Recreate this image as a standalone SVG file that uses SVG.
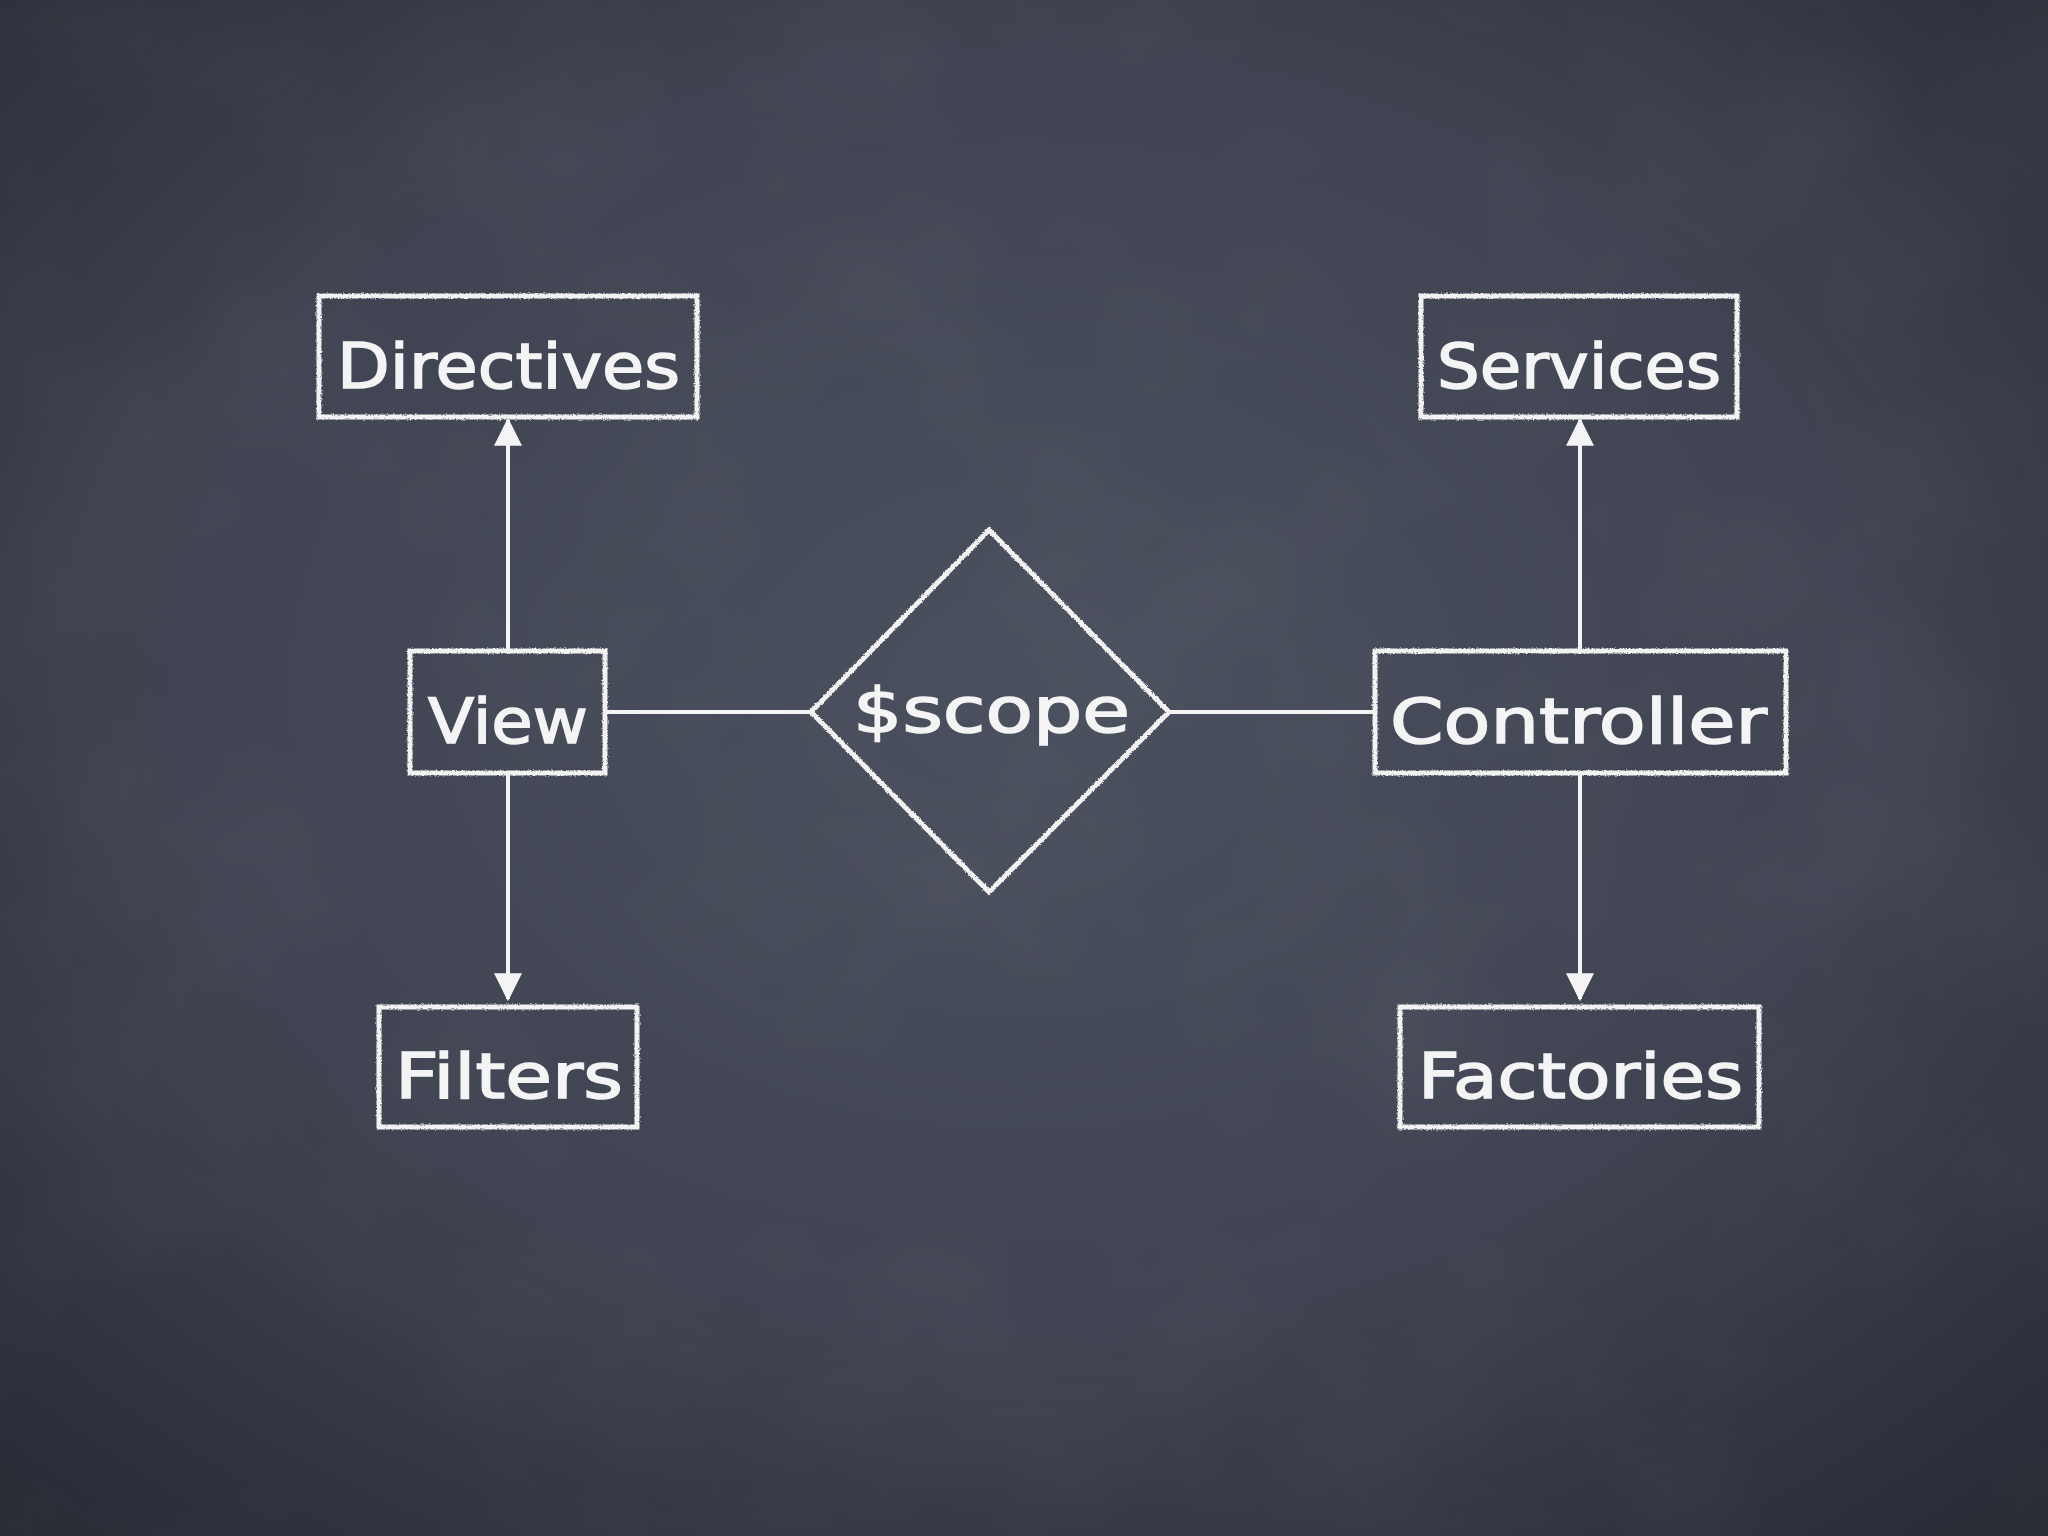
<svg xmlns="http://www.w3.org/2000/svg" width="2048" height="1536" viewBox="0 0 2048 1536">
  <defs>
    <radialGradient id="bg" cx="50%" cy="45%" r="75%">
      <stop offset="0" stop-color="#4b505e"/>
      <stop offset="0.55" stop-color="#404452"/>
      <stop offset="1" stop-color="#272a33"/>
    </radialGradient>
    <filter id="noise" x="0" y="0" width="100%" height="100%">
      <feTurbulence type="fractalNoise" baseFrequency="0.004" numOctaves="3" seed="7"/>
      <feColorMatrix type="matrix" values="0 0 0 0 1  0 0 0 0 1  0 0 0 0 1  0.6 0 0 0 -0.25"/>
    </filter>
    <filter id="chalk" x="-5%" y="-5%" width="110%" height="110%">
      <feTurbulence type="fractalNoise" baseFrequency="0.6" numOctaves="2" seed="3" result="t"/>
      <feDisplacementMap in="SourceGraphic" in2="t" scale="3" xChannelSelector="R" yChannelSelector="G"/>
    </filter>
    <marker id="arrow" viewBox="0 0 12 12" refX="11" refY="6" markerWidth="7" markerHeight="7" orient="auto" markerUnits="strokeWidth">
      <path d="M0,0 L12,6 L0,12 z" fill="#f4f4f4"/>
    </marker>
    <style>
      .box { fill: none; stroke: #f2f2f2; stroke-width: 5; }
      .lbl { fill: #f4f4f4; stroke: #f4f4f4; stroke-width: 1.5; font-family: "DejaVu Sans", "Noto Sans", sans-serif; font-size: 62px; }
      .conn { stroke: #f4f4f4; stroke-width: 4; fill: none; }
    </style>
  </defs>

  <rect x="0" y="0" width="2048" height="1536" fill="url(#bg)"/>
  <rect x="0" y="0" width="2048" height="1536" filter="url(#noise)" opacity="0.12"/>

  <g id="connectors">
    <line class="conn" x1="508" y1="650" x2="508" y2="420" marker-end="url(#arrow)"/>
    <line class="conn" x1="508" y1="773" x2="508" y2="999" marker-end="url(#arrow)"/>
    <line class="conn" x1="1580" y1="650" x2="1580" y2="420" marker-end="url(#arrow)"/>
    <line class="conn" x1="1580" y1="773" x2="1580" y2="999" marker-end="url(#arrow)"/>
    <line class="conn" x1="605" y1="712" x2="811" y2="712"/>
    <line class="conn" x1="1169" y1="712" x2="1375" y2="712"/>
  </g>

  <g id="node-directives">
    <rect class="box" filter="url(#chalk)" x="319" y="296" width="378" height="121"/>
    <text class="lbl" x="337" y="388" textLength="343" lengthAdjust="spacingAndGlyphs">Directives</text>
  </g>
  <g id="node-view">
    <rect class="box" filter="url(#chalk)" x="410" y="651" width="195" height="122"/>
    <text class="lbl" x="428" y="743" textLength="160" lengthAdjust="spacingAndGlyphs">View</text>
  </g>
  <g id="node-filters">
    <rect class="box" filter="url(#chalk)" x="379" y="1007" width="258" height="120"/>
    <text class="lbl" x="395" y="1098" textLength="228" lengthAdjust="spacingAndGlyphs">Filters</text>
  </g>
  <g id="node-scope">
    <polygon class="box" filter="url(#chalk)" points="989,530 1169,712 989,892 811,712"/>
    <text class="lbl" x="853" y="732" textLength="277" lengthAdjust="spacingAndGlyphs" font-size="72">$scope</text>
  </g>
  <g id="node-controller">
    <rect class="box" filter="url(#chalk)" x="1375" y="651" width="411" height="122"/>
    <text class="lbl" x="1390" y="743" textLength="377" lengthAdjust="spacingAndGlyphs">Controller</text>
  </g>
  <g id="node-services">
    <rect class="box" filter="url(#chalk)" x="1421" y="296" width="316" height="121"/>
    <text class="lbl" x="1437" y="388" textLength="284" lengthAdjust="spacingAndGlyphs">Services</text>
  </g>
  <g id="node-factories">
    <rect class="box" filter="url(#chalk)" x="1400" y="1007" width="359" height="120"/>
    <text class="lbl" x="1418" y="1098" textLength="325" lengthAdjust="spacingAndGlyphs">Factories</text>
  </g>
</svg>
